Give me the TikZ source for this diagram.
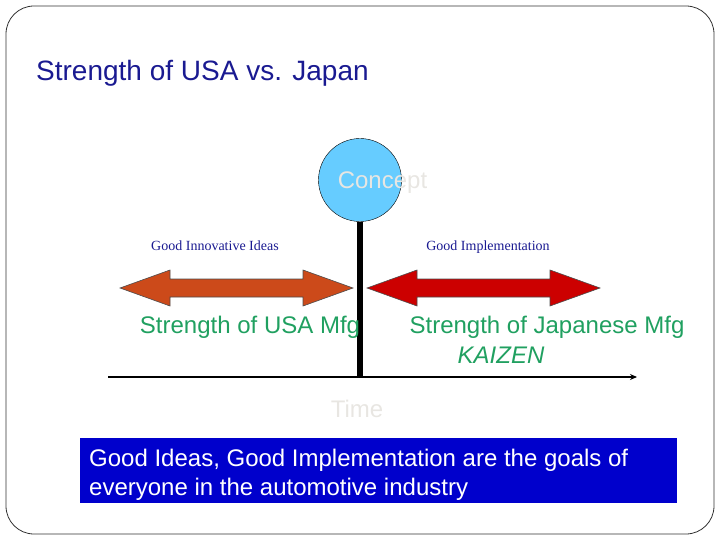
\documentclass[tikz,border=0pt]{standalone}
\usepackage{fontspec}
\setmainfont{Liberation Sans}
\newfontfamily\timesfont{Liberation Serif}
\usetikzlibrary{arrows.meta}
\definecolor{titleblue}{RGB}{26,26,145}
\definecolor{mfggreen}{RGB}{32,160,96}
\definecolor{conceptfill}{RGB}{102,204,255}
\definecolor{palegrey}{RGB}{232,230,226}
\definecolor{usaorange}{RGB}{204,74,26}
\definecolor{japanred}{RGB}{204,0,0}
\definecolor{goalblue}{RGB}{0,0,204}
\tikzset{
  bigtext/.style={font=\fontsize{24}{29}\selectfont},
  smalllabel/.style={font=\timesfont\fontsize{14}{16}\selectfont, text=titleblue, anchor=base},
  mfglabel/.style={bigtext, text=mfggreen, anchor=base},
  dblarrow/.style={draw=black!70, line width=0.6pt}
}
\begin{document}
\begin{tikzpicture}[x=1pt, y=-1pt]
    \useasboundingbox (0,0) rectangle (720,540);
    % frame
    \draw[black!80, line width=0.8pt, rounded corners=28pt] (6,6) rectangle (714,534);
    \node[font=\fontsize{28}{32}\selectfont, text=titleblue, anchor=base west, inner sep=0pt] (title) at (36,81) {Strength of USA vs. Japan};
    % concept and time axis
    \node[circle, draw=black, fill=conceptfill, minimum size=83pt, inner sep=0pt] (concept) at (360,180) {};
    \node[bigtext, text=palegrey, anchor=base, inner sep=0pt] (concepttext) at (382.5,189) {Concept};
    \coordinate (axisL) at (108,377);
    \coordinate (axisR) at (637,377);
    \coordinate (foot) at (360,377);
    \draw[line width=2pt, -{Stealth[length=7pt, width=6pt]}] (axisL) -- (axisR);
    \draw[line width=6pt] (concept.south) -- (foot);
    \node[bigtext, text=palegrey, anchor=base, inner sep=0pt] (time) at (357,417) {Time};
    % labels above the arrows
    \node[smalllabel, inner sep=0pt] (ideas) at (215,250.5) {Good Innovative Ideas};
    \node[smalllabel, inner sep=0pt] (implement) at (488,250.5) {Good Implementation};
    % double arrows
    \def\midy{288}
    \def\shaft{9}
    \def\head{18}
    \draw[dblarrow, fill=usaorange] (120,\midy) -- (170,\midy-\head) -- (170,\midy-\shaft) -- (303,\midy-\shaft) -- (303,\midy-\head) -- (353,\midy)
      -- (303,\midy+\head) -- (303,\midy+\shaft) -- (170,\midy+\shaft) -- (170,\midy+\head) -- cycle;
    \draw[dblarrow, fill=japanred] (367,\midy) -- (417,\midy-\head) -- (417,\midy-\shaft) -- (550,\midy-\shaft) -- (550,\midy-\head) -- (600,\midy)
      -- (550,\midy+\head) -- (550,\midy+\shaft) -- (417,\midy+\shaft) -- (417,\midy+\head) -- cycle;
    % strengths
    \node[mfglabel, inner sep=0pt] (usa) at (250,333) {Strength of USA Mfg};
    \node[mfglabel, inner sep=0pt] (japan) at (547,333) {Strength of Japanese Mfg};
    \node[mfglabel, inner sep=0pt, font=\fontsize{24}{29}\selectfont\itshape] (kaizen) at (501,363) {KAIZEN};
    % goal box
    \fill[goalblue] (80,438) rectangle (677,503);
    \node[bigtext, text=white, anchor=base west, inner sep=0pt] (goal1) at (89,466) {Good Ideas, Good Implementation are the goals of};
    \node[bigtext, text=white, anchor=base west, inner sep=0pt] (goal2) at (89,495) {everyone in the automotive industry};
\end{tikzpicture}
\end{document}
